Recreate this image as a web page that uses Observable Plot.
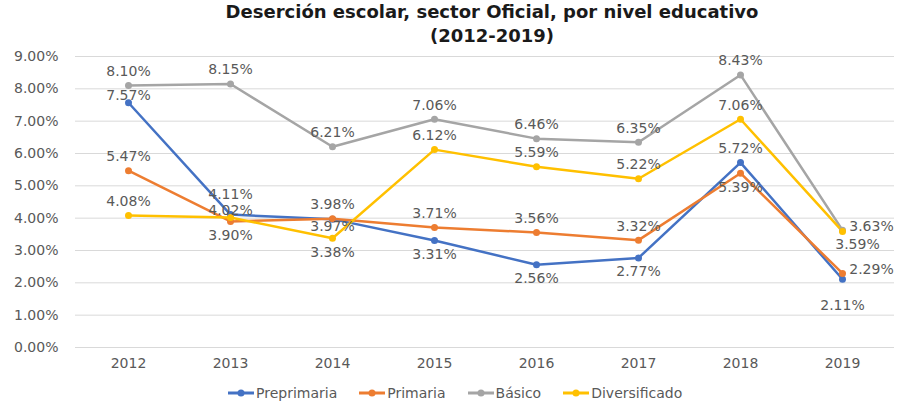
<!DOCTYPE html>
<html>
<head>
<meta charset="utf-8">
<script src="https://cdn.jsdelivr.net/npm/d3@7"></script>
<script src="https://cdn.jsdelivr.net/npm/@observablehq/plot@0.6"></script>
<style>
  html, body { margin: 0; padding: 0; background: #fff; }
  #wrap { position: relative; width: 899px; height: 403px; overflow: hidden; background: #fff; }
  #title { position: absolute; top: 0px; left: 0; width: 984px; text-align: center;
           font-family: "DejaVu Sans", sans-serif; font-weight: bold; font-size: 18px;
           line-height: 24px; color: #1a1a1a; z-index: 2; }
  #chart { position: absolute; top: 0; left: 0; }
  #legend { position: absolute; top: 385px; left: 228px; display: flex; gap: 22px;
            font-family: "DejaVu Sans", sans-serif; font-size: 14px; color: #595959; align-items: center; }
  .item { display: flex; align-items: center; gap: 2px; }
</style>
</head>
<body>
<div id="wrap">
  <div id="title"></div>
  <div id="chart"></div>
  <div id="legend"></div>
</div>
<script>
const titleLines = ["Deserción escolar, sector Oficial, por nivel educativo", "(2012-2019)"];
const years = ["2012", "2013", "2014", "2015", "2016", "2017", "2018", "2019"];
const seriesNames = ["Preprimaria", "Primaria", "Básico", "Diversificado"];
const preprimaria = [7.57, 4.11, 3.97, 3.31, 2.56, 2.77, 5.72, 2.11];
const primaria = [5.47, 3.90, 3.98, 3.71, 3.56, 3.32, 5.39, 2.29];
const basico = [8.10, 8.15, 6.21, 7.06, 6.46, 6.35, 8.43, 3.63];
const diversificado = [4.08, 4.02, 3.38, 6.12, 5.59, 5.22, 7.06, 3.59];
const yTicks = [0, 1, 2, 3, 4, 5, 6, 7, 8, 9];

// layout: label placement codes per series (t=above, b=below, r=right, n=near, f=far)
const labelPlace = {
  "Preprimaria":   ["tn", "tf", "bn", "b", "b", "b", "t", "bf"],
  "Primaria":      ["t", "b", "t", "t", "t", "t", "b", "r"],
  "Básico":        ["t", "t", "t", "t", "t", "t", "t", "r"],
  "Diversificado": ["t", "tn", "b", "t", "t", "t", "t", "br"]
};
const placeOffsets = {
  t: [0, -14], tn: [0, -7], tf: [0, -20], b: [0, 14], bn: [0, 7], bf: [0, 26],
  r: [29, -4], br: [15, 13]
};
const colors = ["#4472C4", "#ED7D31", "#A5A5A5", "#FFC000"];

const seriesValues = [preprimaria, primaria, basico, diversificado];
const data = [];
seriesNames.forEach((s, i) => {
  years.forEach((y, j) => {
    data.push({series: s, year: y, value: seriesValues[i][j], place: labelPlace[s][j]});
  });
});

document.getElementById("title").innerHTML = titleLines.join("<br>");

const pct = v => v.toFixed(2) + "%";
const textMarks = Object.entries(placeOffsets).map(([code, [dx, dy]]) =>
  Plot.text(data.filter(d => d.place === code), {
    x: "year", y: "value", text: d => pct(d.value), dx, dy,
    fill: "#595959", fontSize: 14
  })
);

const chart = Plot.plot({
  width: 899,
  height: 380,
  marginTop: 56,
  marginBottom: 33,
  marginLeft: 75,
  marginRight: 5,
  style: {fontFamily: "DejaVu Sans, sans-serif", fontSize: "14px", color: "#595959", background: "white"},
  x: {type: "point", domain: years, padding: 0.5, label: null},
  y: {domain: [0, 9], label: null},
  color: {domain: seriesNames, range: colors},
  marks: [
    Plot.gridY(yTicks, {stroke: "#d9d9d9", strokeOpacity: 1, strokeWidth: 1}),
    Plot.axisY(yTicks, {tickSize: 0, tickPadding: 17, tickFormat: pct, fill: "#595959", label: null, fontSize: 14}),
    Plot.axisX({tickSize: 0, tickPadding: 11, fill: "#595959", label: null, fontSize: 14}),
    Plot.line(data, {x: "year", y: "value", z: "series", stroke: "series", strokeWidth: 2.5}),
    Plot.dot(data, {x: "year", y: "value", fill: "series", r: 3.5}),
    ...textMarks
  ]
});
document.getElementById("chart").appendChild(chart);

const legend = document.getElementById("legend");
seriesNames.forEach((s, i) => {
  const item = document.createElement("div");
  item.className = "item";
  item.innerHTML = `<svg width="26" height="10"><line x1="0" y1="5" x2="26" y2="5" stroke="${colors[i]}" stroke-width="3"/><circle cx="13" cy="5" r="3.5" fill="${colors[i]}"/></svg><span>${s}</span>`;
  legend.appendChild(item);
});
</script>
</body>
</html>
